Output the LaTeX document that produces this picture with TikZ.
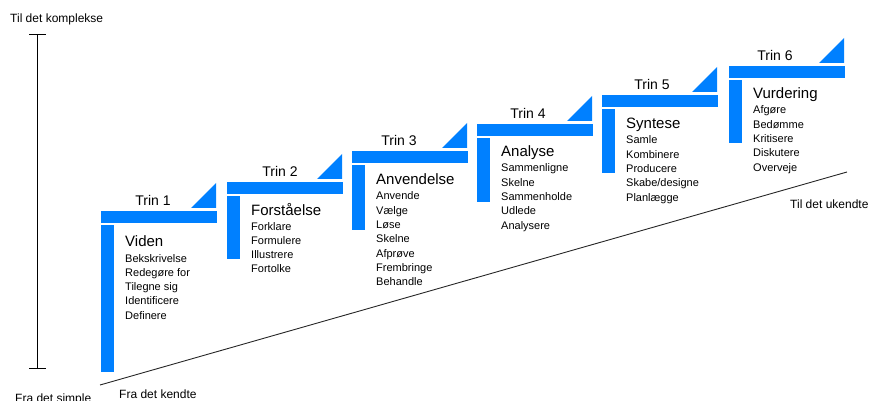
\documentclass[tikz,border=0pt]{standalone}
\usepackage{fontspec}
\setmainfont{Liberation Sans}
\definecolor{bblue}{RGB}{0,128,255}
\begin{document}
\begin{tikzpicture}[x=1pt,y=-1pt,
  bar/.style={fill=bblue, draw=none},
  trinlbl/.style={font=\fontsize{14}{16}\selectfont, anchor=base},
  headlbl/.style={font=\fontsize{15}{17}\selectfont, anchor=base west},
  itemlbl/.style={font=\fontsize{11}{13}\selectfont, anchor=base west, inner sep=0pt},
  notelbl/.style={font=\fontsize{12}{14}\selectfont, anchor=base west, inner sep=0pt},
  thinline/.style={line width=1pt, black}]
\useasboundingbox (0,0) rectangle (871,401);
% scale at left
\coordinate (scTop) at (37,35);
\coordinate (scBot) at (37,368);
\draw[thinline] (scTop) -- (scBot);
\draw[thinline] ([xshift=-8pt]scTop) -- ([xshift=9pt]scTop);
\draw[thinline] ([xshift=-8pt]scBot) -- ([xshift=9pt]scBot);
\node[notelbl] (komplekse) at (10,23) {Til det komplekse};
\node[notelbl] (simple) at (15,402) {Fra det simple};
% diagonal
\coordinate (dA) at (100,385);
\coordinate (dB) at (847,172);
\draw[line width=0.9pt, black!85] (dA) -- (dB);
\node[notelbl] (kendte) at (119,398) {Fra det kendte};
\node[notelbl] (ukendte) at (790,208.5) {Til det ukendte};
% steps
\foreach \n/\x/\y/\tx/\vb/\hb/\head/\items in {
  1/101/211/153/372/247/Viden/{Bekskrivelse,Redegøre for,Tilegne sig,Identificere,Definere},
  2/227/182/280/259/215/Forståelse/{Forklare,Formulere,Illustrere,Fortolke},
  3/352/151/399/230/185/Anvendelse/{Anvende,Vælge,Løse,Skelne,Afprøve,Frembringe,Behandle},
  4/477/124/528/202/157/Analyse/{Sammenligne,Skelne,Sammenholde,Udlede,Analysere},
  5/602/95/652/173/129/Syntese/{Samle,Kombinere,Producere,Skabe/designe,Planlægge},
  6/729/66/775/143/99/Vurdering/{Afgøre,Bedømme,Kritisere,Diskutere,Overveje}} {
  \fill[bar] (\x,\y) rectangle ++(116,12);
  \fill[bar] (\x,\y+14) rectangle (\x+13,\vb);
  \fill[bar] (\x+90,\y-3) -- (\x+115,\y-3) -- (\x+115,\y-28) -- cycle;
  \node[trinlbl] (trin\n) at (\tx,\y-5.5) {Trin \n};
  \node[headlbl, inner sep=0pt] (head\n) at (\x+24,\hb) {\head};
  \foreach \it [count=\k] in \items {
    \node[itemlbl] (item\n-\k) at (\x+24,\hb+15+14.3*\k-14.3) {\it};
  }
}
\end{tikzpicture}
\end{document}
